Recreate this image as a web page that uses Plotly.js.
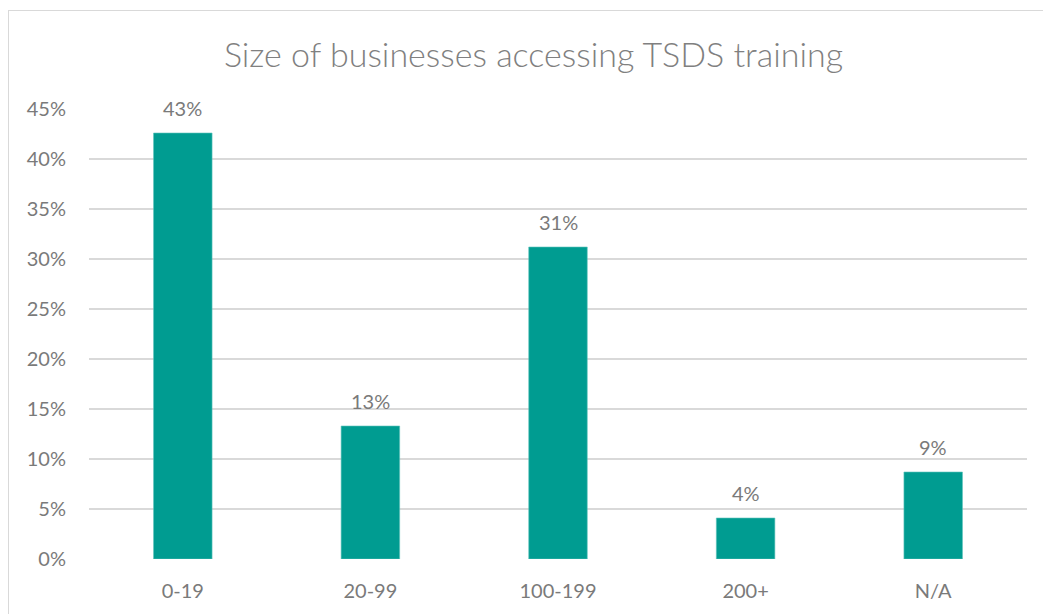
<!DOCTYPE html>
<html>
<head>
<meta charset="utf-8">
<script src="https://cdn.plot.ly/plotly-3.0.1.min.js"></script>
<style>
html,body{margin:0;padding:0;background:#fff;}
#wrap{position:relative;width:1043px;height:614px;overflow:hidden;}
#chart{width:1043px;height:614px;}
#frame{position:absolute;left:8px;top:10px;width:1100px;height:700px;border:1.5px solid #d9d9d9;box-sizing:border-box;pointer-events:none;}
</style>
</head>
<body>
<div id="wrap">
<div id="chart"></div>
<div id="frame"></div>
</div>
<script>
const categories = ["0-19", "20-99", "100-199", "200+", "N/A"];
const values = [42.6, 13.3, 31.2, 4.1, 8.7];
const valueLabels = ["43%", "13%", "31%", "4%", "9%"];
const yTickVals = [0, 5, 10, 15, 20, 25, 30, 35, 40, 45];
const yTickText = ["0%", "5%", "10%", "15%", "20%", "25%", "30%", "35%", "40%", "45%"];

const FONT = "Lato, 'Open Sans', sans-serif";
const GREY = "#7a7a7a";

const trace = {
  type: "bar",
  x: categories,
  y: values,
  marker: {color: "#009C91", line: {color: "#5fc4bc", width: 0.6}},
  hoverinfo: "x+y"
};

const annotations = categories.map((c, i) => ({
  x: c, y: values[i], xref: "x", yref: "y",
  text: valueLabels[i], showarrow: false,
  yanchor: "bottom", yshift: 11,
  font: {family: FONT, size: 20, color: GREY}
}));

const layout = {
  width: 1043, height: 614,
  margin: {l: 89, r: 16, t: 109, b: 55, pad: 0},
  paper_bgcolor: "#ffffff",
  plot_bgcolor: "#ffffff",
  bargap: 0.688,
  showlegend: false,
  title: {
    text: "Size of businesses accessing TSDS training",
    font: {family: FONT, size: 34, color: "#808080", weight: 300},
    xref: "container", x: 533.5/1043, xanchor: "center",
    yref: "container", y: 1 - 55/614, yanchor: "middle"
  },
  xaxis: {
    type: "category",
    tickfont: {family: FONT, size: 20, color: GREY},
    showline: false, zeroline: false, showgrid: false,
    ticks: "", ticklen: 0, ticklabelstandoff: 18
  },
  yaxis: {
    range: [0, 45],
    tickvals: yTickVals, ticktext: yTickText,
    tickfont: {family: FONT, size: 20, color: GREY},
    showgrid: true, gridcolor: "#d9d9d9", gridwidth: 1.3,
    zeroline: false, showline: false,
    ticks: "", ticklabelstandoff: 22
  },
  annotations: annotations
};

Plotly.newPlot("chart", [trace], layout, {displayModeBar: false, staticPlot: true});
</script>
</body>
</html>
